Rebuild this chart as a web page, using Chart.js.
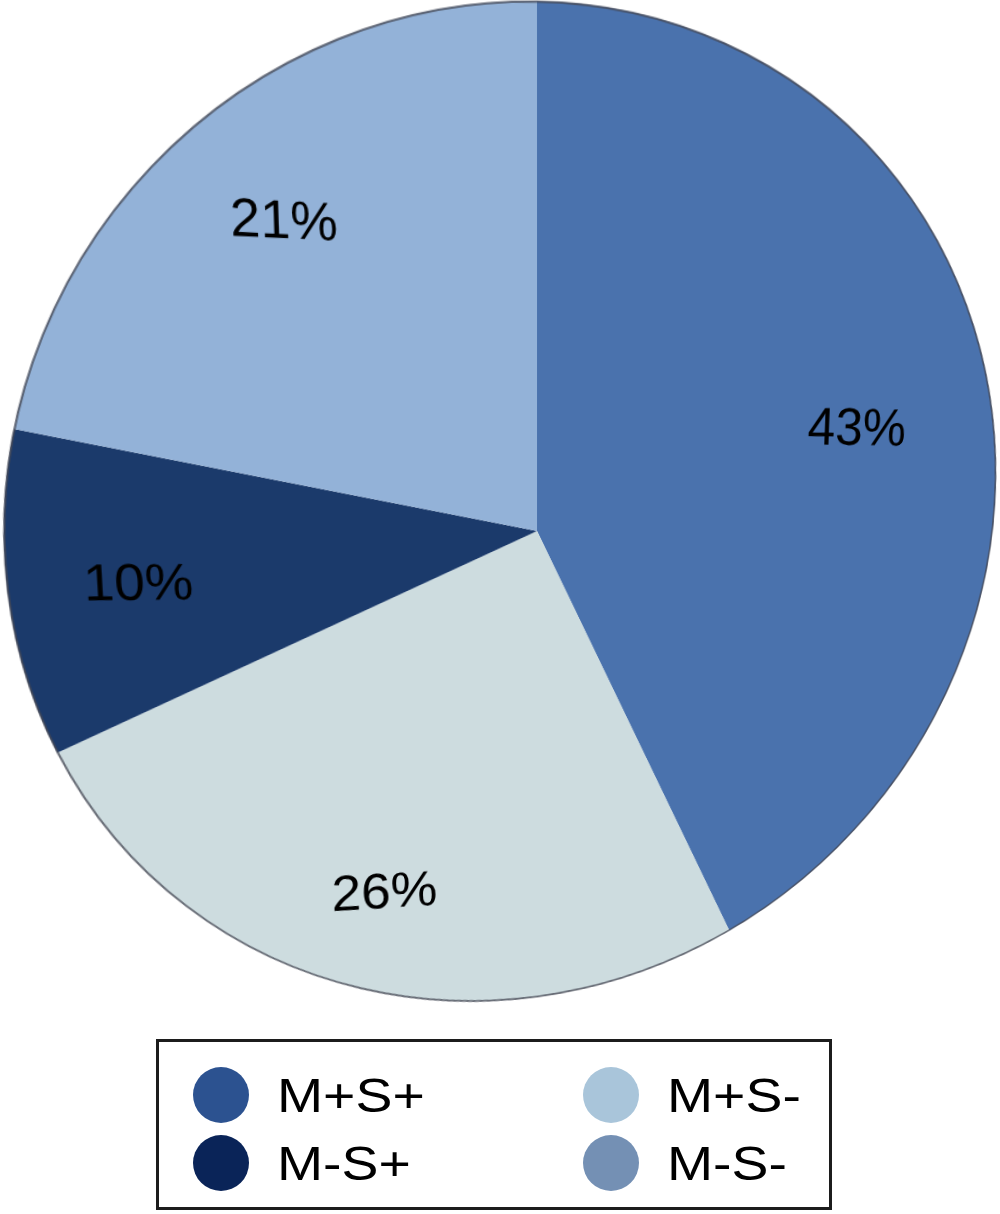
<!DOCTYPE html>
<html>
<head>
<meta charset="utf-8">
<title>M/S pie</title>
<script src="https://cdn.jsdelivr.net/npm/chart.js@4.4.1/dist/chart.umd.min.js"></script>
<style>
    html, body {
        margin: 0;
        padding: 0;
        background: #fff;
        width: 1000px;
        height: 1214px;
        overflow: hidden;
        position: relative;
        font-family: "Liberation Sans", Arial, Helvetica, sans-serif;
    }
    #pie {
        position: absolute;
        left: 0;
        top: 0;
        transform-origin: 0 0;
    }
    #legend {
        position: absolute;
        left: 156px;
        top: 1039px;
        width: 676px;
        height: 171px;
        border: 3px solid #1c1c1c;
        box-sizing: border-box;
    }
    .item {
        position: absolute;
        height: 56px;
        display: flex;
        align-items: center;
    }
    .dot {
        width: 56px;
        height: 56px;
        border-radius: 50%;
        margin-right: 28px;
        flex: none;
    }
    .txt {
        display: inline-block;
        font-size: 49px;
        line-height: 56px;
        color: #000;
        white-space: nowrap;
        transform: scaleX(1.13);
        transform-origin: 0 50%;
    }
</style>
</head>
<body>
<canvas id="pie" width="1000" height="1000"></canvas>
<div id="legend"></div>
<script>
// slices, clockwise from 12 o'clock
const categories = ["M+S+", "M-S-", "M-S+", "M+S-"]
const shares = [43, 26, 10, 21]
const shareLabels = ["43%", "26%", "10%", "21%"]
const sliceColors = ["#4a72ad", "#cddcdf", "#1b3a6b", "#93b2d8"]
const legendColors = ["#2c5290", "#7490b4", "#0a2458", "#a9c5da"]
const legendOrder = ["M+S+", "M+S-", "M-S+", "M-S-"]

// the original pie is seen slightly tilted: the apex sits right/below the middle
// of the outline and the left side sags a bit, so the flat chart gets a
// projective css transform
const apex = { x: 537, y: 531 }
const local = { x: 500, y: 500, r: 495 }
const squeeze = { x: 0.9945, y: 1.0018 }
const sag = -0.063
const tilt = { x: 0.0748 / 495, y: 0.0643 / 495 }

function perspectiveMatrix() {
    const g = tilt.x, h = tilt.y
    const k = 1 - local.x * g - local.y * h
    const A = apex.x * g + squeeze.x
    const B = apex.x * h
    const C = apex.x * k - squeeze.x * local.x
    const D = apex.y * g + sag
    const E = apex.y * h + squeeze.y
    const F = apex.y * k - sag * local.x - squeeze.y * local.y
    return `matrix3d(${A},${D},0,${g},${B},${E},0,${h},0,0,1,0,${C},${F},0,${k})`
}

const outlinePlugin = {
    id: "outline",
    afterDatasetsDraw(chart) {
        const arc = chart.getDatasetMeta(0).data[0]
        const p = arc.getProps(["x", "y", "outerRadius"], true)
        const ctx = chart.ctx
        ctx.save()
        ctx.beginPath()
        ctx.arc(p.x, p.y, p.outerRadius - 0.5, 0, Math.PI * 2)
        ctx.lineWidth = 2
        ctx.strokeStyle = "rgba(70, 72, 84, 0.75)"
        ctx.stroke()
        ctx.restore()
    }
}

const labelPlugin = {
    id: "sliceLabels",
    afterDatasetsDraw(chart, args, opts) {
        const ctx = chart.ctx
        chart.getDatasetMeta(0).data.forEach((arc, i) => {
            const p = arc.getProps(["x", "y", "startAngle", "endAngle", "outerRadius"], true)
            const mid = (p.startAngle + p.endAngle) / 2 + opts.shift[i] * Math.PI / 180
            const r = p.outerRadius * opts.radius[i]
            const x = p.x + Math.cos(mid) * r
            const y = p.y + Math.sin(mid) * r
            // the tilt shrinks/grows text, undo that so all labels look the same size
            const w = 1 + tilt.x * (x - p.x) + tilt.y * (y - p.y)
            const size = opts.size * w
            ctx.save()
            ctx.translate(x, y)
            // counter the sag so the text reads level on screen
            ctx.transform(1, -sag / squeeze.y, 0, 1, 0, 0)
            ctx.font = `${size}px "Liberation Sans", Arial, sans-serif`
            ctx.fillStyle = "#000"
            ctx.textAlign = "center"
            ctx.textBaseline = "alphabetic"
            ctx.fillText(shareLabels[i], 0, size * 0.358)
            ctx.restore()
        })
    }
}

const canvas = document.getElementById("pie")
canvas.style.transform = perspectiveMatrix()

const chart = new Chart(canvas.getContext("2d"), {
    type: "pie",
    data: {
        labels: categories,
        datasets: [{
            data: shares,
            backgroundColor: sliceColors,
            borderWidth: 0,
            hoverOffset: 0,
            radius: local.r
        }]
    },
    options: {
        responsive: false,
        animation: false,
        events: [],
        layout: { padding: 0 },
        plugins: {
            legend: { display: false },
            tooltip: { enabled: false },
            sliceLabels: {
                size: 52,
                radius: [0.699, 0.787, 0.767, 0.775],
                shift: [-2.1, 2.1, 0, 0]
            }
        }
    },
    plugins: [outlinePlugin, labelPlugin]
})

// legend box: two columns, entries
const legendBox = document.getElementById("legend")
const colLeft = [34, 424]
const rowTop = [25, 93]
legendOrder.forEach((name, n) => {
    const i = chart.data.labels.indexOf(name)
    const item = document.createElement("div")
    item.className = "item"
    item.style.left = colLeft[n % 2] + "px"
    item.style.top = rowTop[Math.floor(n / 2)] + "px"
    const dot = document.createElement("span")
    dot.className = "dot"
    dot.style.background = legendColors[i]
    const txt = document.createElement("span")
    txt.className = "txt"
    txt.textContent = chart.data.labels[i]
    item.appendChild(dot)
    item.appendChild(txt)
    legendBox.appendChild(item)
})
</script>
</body>
</html>
